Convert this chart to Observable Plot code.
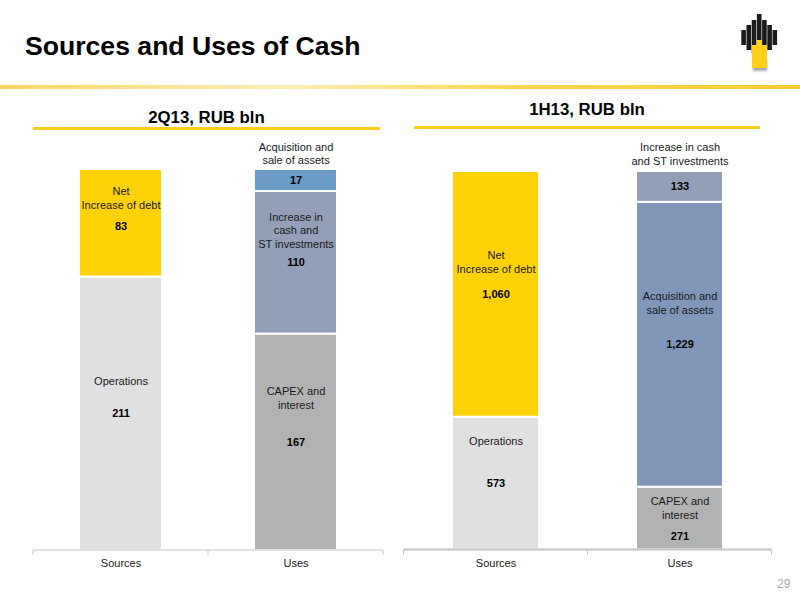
<!DOCTYPE html>
<html>
<head>
<meta charset="utf-8">
<script src="https://cdn.jsdelivr.net/npm/d3@7"></script>
<script src="https://cdn.jsdelivr.net/npm/@observablehq/plot@0.6"></script>
<style>
  html, body { margin: 0; padding: 0; background: #fff; }
  body { width: 800px; height: 600px; position: relative; overflow: hidden; font-family: "Liberation Sans", Arial, sans-serif; color: #000; }
  h1 { position: absolute; left: 25px; top: 31px; margin: 0; font-size: 26.6px; line-height: 30px; font-weight: bold; white-space: nowrap; }
  h2 { position: absolute; margin: 0; font-size: 16.8px; line-height: 20px; font-weight: bold; text-align: center; white-space: nowrap; }
  .band { position: absolute; left: 0; top: 85px; width: 800px; height: 4px; background: linear-gradient(90deg, #f6d465 0%, #fdeeb5 35%, #f8d552 65%, #f7cd35 100%); }
  .rule { position: absolute; height: 3px; background: #f8cf20; }
  .page { position: absolute; left: 777px; top: 577px; font-size: 12px; line-height: 14px; color: #aaaaaa; }
  .plot { position: absolute; top: 130px; }
  svg.logo { position: absolute; left: 735px; top: 8px; }
</style>
</head>
<body>
<h1>Sources and Uses of Cash</h1>
<svg class="logo" width="50" height="70" viewBox="0 0 50 70">
  <defs><filter id="b"><feGaussianBlur stdDeviation="1.3"/></filter></defs>
  <rect x="18" y="52" width="14" height="11" fill="#aaa" filter="url(#b)"/>
  <g fill="#1b1b1b">
    <rect x="6.3" y="22" width="4.6" height="15"/><rect x="11.5" y="17" width="4.6" height="25"/>
    <rect x="16.7" y="12" width="4.6" height="33"/><rect x="21.9" y="6" width="4.6" height="30"/>
    <rect x="27.1" y="12" width="4.6" height="33"/><rect x="32.3" y="17" width="4.6" height="25"/>
    <rect x="37.5" y="22" width="4.6" height="15"/>
  </g>
  <g fill="#fcd116">
    <rect x="17" y="37" width="5" height="23"/><rect x="22" y="32" width="5" height="28"/><rect x="27" y="37" width="5" height="23"/>
  </g>
</svg>
<div class="band"></div>
<h2 style="left:33px;width:347px;top:108px">2Q13, RUB bln</h2>
<div class="rule" style="left:33px;width:347px;top:127px"></div>
<h2 style="left:414px;width:346px;top:100px">1H13, RUB bln</h2>
<div class="rule" style="left:414px;width:346px;top:126px"></div>
<div class="page">29</div>
<div id="left" class="plot" style="left:0"></div>
<div id="right" class="plot" style="left:400px"></div>
<script>
const categories = ["Sources", "Uses"];

const q2Category = ["Sources", "Sources", "Uses", "Uses", "Uses"];
const q2Names = ["Operations", "Net\nIncrease of debt", "CAPEX and\ninterest", "Increase in\ncash and\nST investments", "Acquisition and\nsale of assets"];
const q2Values = [211, 83, 167, 110, 17];
const q2Colors = ["#e0e0e0", "#ffd208", "#b2b2b2", "#929fb6", "#6b9ac4"];

const h1Category = ["Sources", "Sources", "Uses", "Uses", "Uses"];
const h1Names = ["Operations", "Net\nIncrease of debt", "CAPEX and\ninterest", "Acquisition and\nsale of assets", "Increase in cash\nand ST investments"];
const h1Values = [573, 1060, 271, 1229, 133];
const h1Colors = ["#e0e0e0", "#ffd208", "#b2b2b2", "#8097ba", "#929fb6"];

function buildRows(cats, names, values, colors) {
  const base = new Map();
  return values.map((v, i) => {
    const b = base.get(cats[i]) || 0;
    base.set(cats[i], b + v);
    return {category: cats[i], name: names[i], value: v, color: colors[i], mid: b + v / 2};
  });
}

// Tick marks on the band edges.
function bandEdgeTicks(axisColor, baseWidth) {
  return (index, {x, y}) => {
    const g = d3.create("svg:g").attr("stroke", axisColor).attr("fill", "none");
    const step = x.step ? x.step() : x.bandwidth();
    const left = x(categories[0]) - (step - x.bandwidth()) / 2;
    const y0 = y(0);
    g.append("line").attr("x1", left).attr("x2", left + 2 * step).attr("y1", y0).attr("y2", y0).attr("stroke-width", baseWidth);
    for (let i = 0; i <= 2; i++) {
      g.append("line").attr("x1", left + i * step).attr("x2", left + i * step).attr("y1", y0).attr("y2", y0 + 5).attr("stroke-width", 1);
    }
    return g.node();
  };
}

function panel(target, rows, layout) {
  const total = d3.max(categories, c => d3.sum(rows.filter(r => r.category === c), r => r.value));
  const textMarks = rows.flatMap((r, i) => [
    Plot.text([r], {x: "category", y: "mid", text: "name", dy: layout.nameDy[i], fontSize: 11, lineHeight: 1.24, fill: "#1a1a1a"}),
    Plot.text([r], {x: "category", y: "mid", text: d => d3.format(",")(d.value), dy: layout.valueDy[i], fontSize: 11, fontWeight: "bold", fill: "#000"})
  ]);
  const plot = Plot.plot({
    width: 400,
    height: 450,
    marginLeft: layout.marginLeft,
    marginRight: layout.marginRight,
    marginTop: layout.marginTop,
    marginBottom: layout.marginBottom,
    style: {fontFamily: '"Liberation Sans", Arial, sans-serif', background: "transparent", overflow: "visible"},
    x: {type: "band", domain: categories, paddingInner: 0.526, paddingOuter: 0.263, label: null},
    y: {domain: [0, total], axis: null},
    marks: [
      Plot.barY(rows, Plot.stackY({x: "category", y: "value", fill: "color", stroke: "#fff", strokeWidth: 2})),
      bandEdgeTicks("#c4c4c4", layout.baseWidth),
      Plot.axisX({tickSize: 0, tickPadding: 9, fontSize: 11, label: null, color: "#1a1a1a"}),
      ...textMarks
    ]
  });
  document.getElementById(target).appendChild(plot);
}

panel("left", buildRows(q2Category, q2Names, q2Values, q2Colors), {
  marginLeft: 33, marginRight: 17, marginTop: 39, marginBottom: 30, baseWidth: 1,
  nameDy: [-33, -25.5, -44.5, -33, -27.5],
  valueDy: [0, 3.5, 0.5, 0, 0]
});
panel("right", buildRows(h1Category, h1Names, h1Values, h1Colors), {
  marginLeft: 3, marginRight: 28, marginTop: 41, marginBottom: 30.5, baseWidth: 2,
  nameDy: [-43, -32.5, -11, -42, -33.5],
  valueDy: [0, 0, 18, 0, 0]
});
</script>
</body>
</html>
